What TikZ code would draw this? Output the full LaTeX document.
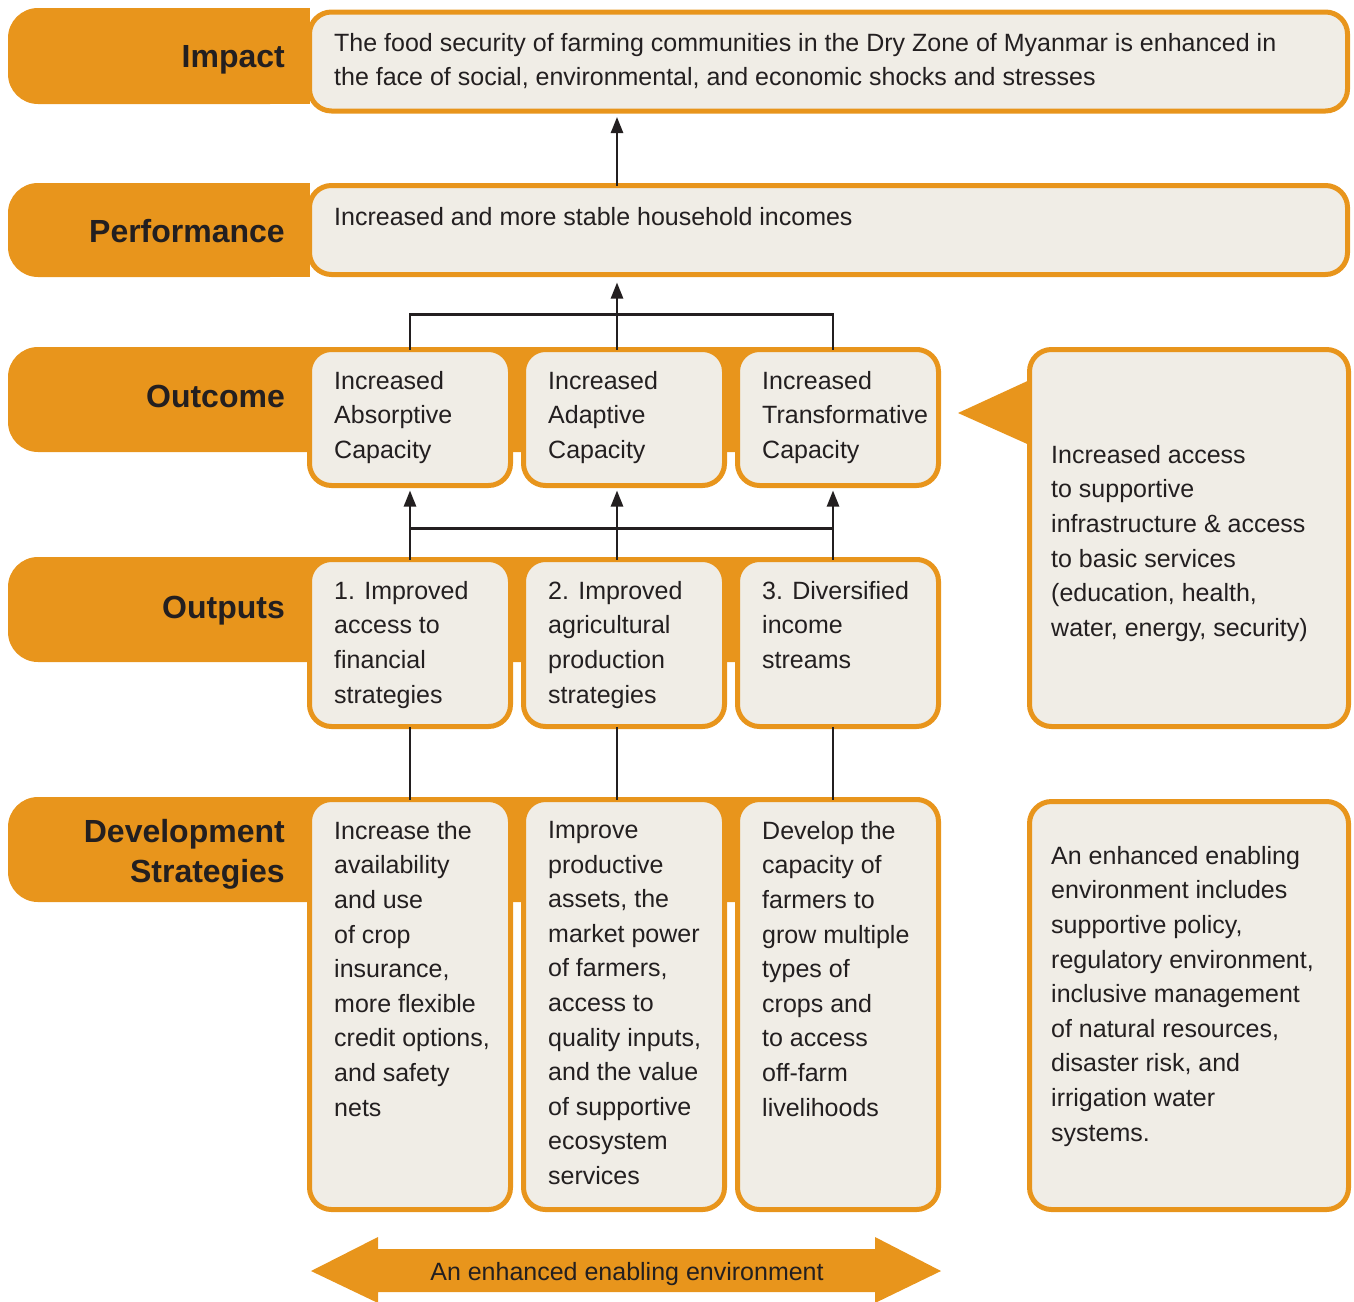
\documentclass[tikz,border=0pt]{standalone}
\usepackage{fontspec}
\setmainfont{Liberation Sans}
\usetikzlibrary{arrows.meta,calc}
\definecolor{band}{HTML}{E8951C}
\definecolor{boxfill}{HTML}{F0EDE6}
\definecolor{ink}{HTML}{231F20}
\tikzset{
  bandfill/.style={fill=band, rounded corners=30pt},
  boxnode/.style={draw=band, fill=boxfill, line width=5pt, rounded corners=22pt, inner sep=0pt, outer sep=0pt, anchor=north west},
  bodytext/.style={anchor=north west, inner sep=0pt, align=left, text=ink, font=\fontsize{25}{34.6}\selectfont},
  labeltext/.style={anchor=north east, inner sep=0pt, align=right, text=ink, font=\fontsize{32}{40}\selectfont\bfseries},
  conn/.style={draw=ink, line width=2.5pt},
  arr/.style={conn, -{Triangle[width=12pt,length=16pt]}}
}
\begin{document}
\begin{tikzpicture}[x=1pt,y=-1pt]
\useasboundingbox (0,0) rectangle (1354,1301);
% bands (left corners rounded, right part squared and hidden under boxes)
\fill[bandfill] (8,8) rectangle (300,104);
\fill[band] (250,8) rectangle (310,104);
\fill[bandfill] (8,183) rectangle (300,277);
\fill[band] (250,183) rectangle (310,277);
\fill[bandfill] (8,347) rectangle (920,452);
\fill[band] (250,347) rectangle (920,452);
\fill[bandfill] (8,557) rectangle (920,662);
\fill[band] (250,557) rectangle (920,662);
\fill[bandfill] (8,797) rectangle (920,902);
\fill[band] (250,797) rectangle (920,902);
% triangle pointer
\fill[band] (958,413) -- (1034,378) -- (1034,447) -- cycle;
% boxes
\node[boxnode, minimum width=1038pt, minimum height=99pt] (impact) at (309.5,12) {};
\node[boxnode, minimum width=1038pt, minimum height=89pt] (perf) at (309.5,185.5) {};
\node[boxnode, minimum width=201pt, minimum height=136pt] (oc1) at (309.5,349.5) {};
\node[boxnode, minimum width=201pt, minimum height=136pt] (oc2) at (523.5,349.5) {};
\node[boxnode, minimum width=201pt, minimum height=136pt] (oc3) at (737.5,349.5) {};
\node[boxnode, minimum width=201pt, minimum height=167pt] (op1) at (309.5,559.5) {};
\node[boxnode, minimum width=201pt, minimum height=167pt] (op2) at (523.5,559.5) {};
\node[boxnode, minimum width=201pt, minimum height=167pt] (op3) at (737.5,559.5) {};
\node[boxnode, minimum width=201pt, minimum height=410pt] (dv1) at (309.5,799.5) {};
\node[boxnode, minimum width=201pt, minimum height=410pt] (dv2) at (523.5,799.5) {};
\node[boxnode, minimum width=201pt, minimum height=410pt] (dv3) at (737.5,799.5) {};
\node[boxnode, minimum width=319pt, minimum height=377pt] (rt1) at (1029.5,349.5) {};
\node[boxnode, minimum width=319pt, minimum height=408pt] (rt2) at (1029.5,801.5) {};
% labels
\node[labeltext] (limpact) at (285,45) {Impact};
\node[labeltext] (lperf) at (285,219.5) {Performance};
\node[labeltext] (loc) at (285,384.5) {Outcome};
\node[labeltext] (lop) at (285,595.5) {Outputs};
\node[labeltext] (ldv) at (285,819.5) {Development\\Strategies};
% body texts
\node[bodytext] (timpact) at (334,33) {The food security of farming communities in the Dry Zone of Myanmar is enhanced in\\the face of social, environmental, and economic shocks and stresses};
\node[bodytext] (tperf) at (334,207) {Increased and more stable household incomes};
\node[bodytext] (toc1) at (334,371) {Increased\\Absorptive\\Capacity};
\node[bodytext] (toc2) at (548,371) {Increased\\Adaptive\\Capacity};
\node[bodytext] (toc3) at (762,371) {Increased\\Transformative\\Capacity};
\node[bodytext] (top1) at (334,581) {1. Improved\\access to\\financial\\strategies};
\node[bodytext] (top2) at (548,581) {2. Improved\\agricultural\\production\\strategies};
\node[bodytext] (top3) at (762,581) {3. Diversified\\income\\streams};
\node[bodytext] (tdv1) at (334,821) {Increase the\\availability\\and use\\of crop\\insurance,\\more flexible\\credit options,\\and safety\\nets};
\node[bodytext] (tdv2) at (548,821) {Improve\\productive\\assets, the\\market power\\of farmers,\\access to\\quality inputs,\\and the value\\of supportive\\ecosystem\\services};
\node[bodytext] (tdv3) at (762,821) {Develop the\\capacity of\\farmers to\\grow multiple\\types of\\crops and\\to access\\off-farm\\livelihoods};
\node[bodytext] (trt1) at (1051,445) {Increased access\\to supportive\\infrastructure \& access\\to basic services\\(education, health,\\water, energy, security)};
\node[bodytext] (trt2) at (1051,846) {An enhanced enabling\\environment includes\\supportive policy,\\regulatory environment,\\inclusive management\\of natural resources,\\disaster risk, and\\irrigation water\\systems.};
% column axes
\coordinate (m1) at (oc1.north);
\coordinate (m2) at ([xshift=-7pt]oc2.north);
\coordinate (m3) at ([xshift=-5pt]oc3.north);
% connectors
\draw[arr, shorten >=6pt] (perf.north -| m2) -- (impact.south -| m2);
\draw[conn] (oc1.north -| m1) -- ++(0,-35) -| (oc3.north -| m3);
\draw[arr, shorten >=8pt] (oc2.north -| m2) -- (perf.south -| m2);
\draw[arr, shorten >=5pt] (op1.north -| m1) -- (oc1.south -| m1);
\draw[arr, shorten >=5pt] (op2.north -| m2) -- (oc2.south -| m2);
\draw[arr, shorten >=5pt] (op3.north -| m3) -- (oc3.south -| m3);
\draw[conn] ([yshift=31pt]op1.north -| m1) -- ([yshift=31pt]op3.north -| m3);
\draw[conn] (dv1.north -| m1) -- (op1.south -| m1);
\draw[conn] (dv2.north -| m2) -- (op2.south -| m2);
\draw[conn] (dv3.north -| m3) -- (op3.south -| m3);
% enabling environment double arrow
\fill[band] (311,1271) -- (378,1237) -- (378,1249) -- (875,1249) -- (875,1237) -- (941,1271) -- (875,1303) -- (875,1292) -- (378,1292) -- (378,1303) -- cycle;
\node[anchor=base, inner sep=0pt, text=ink, font=\fontsize{25}{30}\selectfont] (tenv) at (627,1280) {An enhanced enabling environment};
\end{tikzpicture}
\end{document}
